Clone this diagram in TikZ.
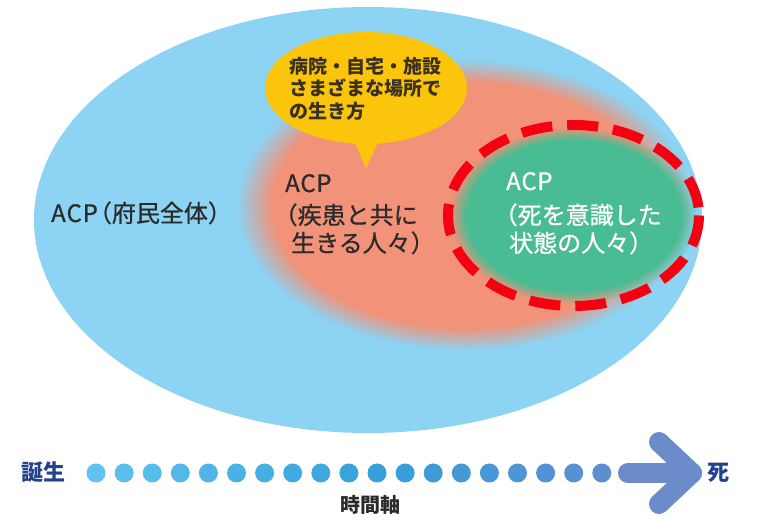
\documentclass[tikz,border=0pt]{standalone}
\usepackage{fontspec}
\setmainfont{Noto Sans CJK JP}
\newfontfamily\medjp{Noto Sans CJK JP}[FakeBold=0.7]
\usetikzlibrary{fadings}
\pgfdeclareradialshading{softAsh}{\pgfpointorigin}{color(0bp)=(pgftransparent!0); color(21bp)=(pgftransparent!0); color(25bp)=(pgftransparent!100); color(50bp)=(pgftransparent!100)}
\pgfdeclareradialshading{softBsh}{\pgfpointorigin}{color(0bp)=(pgftransparent!0); color(21.5bp)=(pgftransparent!0); color(25bp)=(pgftransparent!100); color(50bp)=(pgftransparent!100)}
\pgfdeclarefading{softA}{\pgfuseshading{softAsh}}
\pgfdeclarefading{softB}{\pgfuseshading{softBsh}}
\definecolor{skyC}{HTML}{8DD3F3}
\definecolor{salmonC}{HTML}{F29278}
\definecolor{greenC}{HTML}{4ABC93}
\definecolor{bubbleC}{HTML}{FBC50C}
\definecolor{redC}{HTML}{F50010}
\definecolor{dotA}{HTML}{5EC3EE}
\definecolor{dotB}{HTML}{35A0DA}
\definecolor{dotC}{HTML}{5C8ED2}
\definecolor{arrowC}{HTML}{6B8BCB}
\definecolor{navyC}{HTML}{24418C}
\definecolor{txtC}{HTML}{2B2B2B}
\definecolor{bubtxtC}{HTML}{3A3020}
\tikzset{
  lbl/.style={inner sep=0pt, anchor=base west, text=txtC, font=\medjp\fontsize{24}{28}\selectfont},
  wlbl/.style={lbl, text=white},
  blbl/.style={inner sep=0pt, anchor=base west, text=bubtxtC, font=\fontsize{19}{22}\selectfont\bfseries},
  tlbl/.style={inner sep=0pt, text=navyC, font=\fontsize{22}{26}\selectfont\bfseries},
  dotnode/.style={circle, inner sep=0pt, minimum size=19pt},
  arrowline/.style={draw=arrowC, line width=20pt, line cap=round, line join=round},
}
\begin{document}
\begin{tikzpicture}[x=1pt, y=-1pt]
\useasboundingbox (0,0) rectangle (764,521);
\fill[white] (0,0) rectangle (764,521);
% outer population ellipse
\fill[skyC] (368,220) ellipse [x radius=334, y radius=213];
% disease group (soft edge)
\fill[salmonC, path fading=softA] (465,205) ellipse [x radius=228, y radius=145];
% speech bubble
\fill[bubbleC] (366,88) ellipse [x radius=101, y radius=56];
\fill[bubbleC] (351,134) -- (366,168) -- (382,134) -- cycle;
% end-of-life group
\fill[greenC, path fading=softB] (573.5,215.5) ellipse [x radius=124, y radius=88];
\draw[redC, line width=10pt, dash pattern=on 31pt off 15pt] (573.5,215.5) ellipse [x radius=125.5, y radius=90.5];
% texts
\node[lbl] (t1) at (51,222) {A\kern0.8pt C\kern0.8pt P\kern-10pt（府民全体）};
\node[lbl] (s1) at (285,192) {A\kern0.6pt C\kern0.6pt P};
\node[lbl] (s2) at (273.5,224) {（疾患と共に};
\node[lbl] (s3) at (291,252) {生きる人々）};
\node[wlbl] (g1) at (506,190) {A\kern0.6pt C\kern0.6pt P};
\node[wlbl] (g2) at (493.5,224) {（死を意識した};
\node[wlbl] (g3) at (509,252) {状態の人々）};
\node[blbl] (b1) at (289,73.5) {病院・自宅・施設};
\node[blbl] (b2) at (289,96) {さまざまな場所で};
\node[blbl] (b3) at (289,118.5) {の生き方};
% time axis
\foreach \i in {0,...,18}{
  \pgfmathtruncatemacro\pa{min(100,\i*10)}
  \pgfmathtruncatemacro\pq{100-max(0,(\i-10)*12.5)}
  \node[dotnode, fill=dotB!\pa!dotA!\pq!dotC] (d\i) at (96+\i*28.1,473) {};
}
\coordinate (ashaft) at (628,473);
\coordinate (atip) at (692,473);
\coordinate (aup) at (659,442);
\coordinate (alow) at (659,504);
\draw[arrowline] (ashaft) -- (atip);
\draw[arrowline] (aup) -- (atip) -- (alow);
\node[tlbl, anchor=base west] (birth) at (21,481) {誕生};
\node[tlbl, anchor=base west] (death) at (707,481) {死};
\node[inner sep=0pt, text=txtC, font=\fontsize{20}{24}\selectfont\bfseries] (axis) at (370,505) {時間軸};
\end{tikzpicture}
\end{document}
